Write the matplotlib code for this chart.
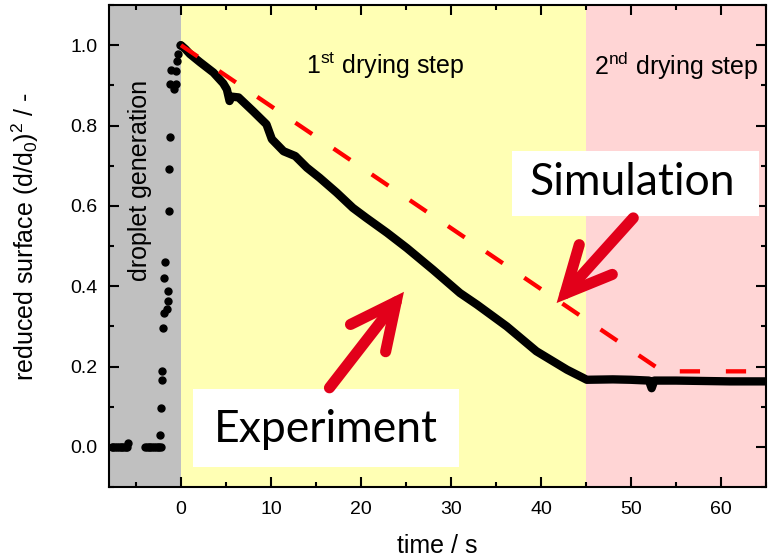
import matplotlib
matplotlib.use('Agg')
import matplotlib.pyplot as plt
from matplotlib.patches import Rectangle, FancyArrowPatch
from matplotlib.ticker import MultipleLocator

plt.rcParams['font.family'] = ['Liberation Sans', 'DejaVu Sans']
plt.rcParams['mathtext.fontset'] = 'custom'
plt.rcParams['mathtext.rm'] = 'Liberation Sans'
plt.rcParams['mathtext.it'] = 'Liberation Sans'

# droplet generation phase (single dots)
gen_t = [-7.7, -7.5, -7.3, -7.1, -6.9, -6.7, -6.5, -6.3, -6.1, -6.0, -5.85,
         -4.0, -3.8, -3.6, -3.4, -3.2, -3.0, -2.8, -2.6, -2.4, -2.2,
         -2.33, -2.22, -2.07, -2.07, -1.96, -1.85, -1.59, -1.48, -1.41, -1.85, -1.78,
         -1.33, -1.3, -1.22, -1.22, -0.74, -0.56, -1.07, -0.52, -0.41, -0.3, -0.11]
gen_y = [0.0, 0.0, 0.0, 0.0, 0.0, 0.0, 0.0, 0.0, 0.0, 0.0, 0.009,
         0.0, 0.0, 0.0, 0.0, 0.0, 0.0, 0.0, 0.0, 0.0, 0.0,
         0.03, 0.096, 0.167, 0.188, 0.296, 0.333, 0.342, 0.362, 0.387, 0.42, 0.46,
         0.587, 0.692, 0.771, 0.903, 0.89, 0.903, 0.938, 0.936, 0.961, 0.978, 1.0]

# drying phase (dense measurement)
exp_t = [0.0, 0.5, 1.0, 2.1, 3.6, 4.7, 5.1, 5.4, 5.6, 6.4, 8.0, 9.5, 10.1, 11.4,
         12.7, 14.0, 15.4, 17.3, 19.1, 20.6, 22.9, 25.1, 28.0, 31.0, 32.9,
         36.2, 39.5, 42.9, 45.1, 48.0, 50.0, 52.0, 52.3, 52.6, 55.0, 58.0, 61.0, 65.0]
exp_y = [1.0, 0.99, 0.978, 0.958, 0.932, 0.905, 0.89, 0.861, 0.872, 0.87, 0.836,
         0.803, 0.766, 0.736, 0.724, 0.695, 0.67, 0.633, 0.595, 0.570, 0.533, 0.495,
         0.441, 0.383, 0.354, 0.30, 0.238, 0.192, 0.167, 0.168, 0.167, 0.165, 0.146,
         0.165, 0.165, 0.164, 0.163, 0.163]

# simulation
sim_t = [0.0, 53.5, 65.0]
sim_y = [1.0, 0.188, 0.188]

fig = plt.figure(figsize=(7.69, 5.58), dpi=100)
ax = fig.add_axes([0.1417, 0.1272, 0.8543, 0.8638])

# background shading of the three phases
ax.axvspan(-8, 0, color='#c0c0c0', zorder=0, lw=0)
ax.axvspan(0, 45, color='#ffffb4', zorder=0, lw=0)
ax.axvspan(45, 65, color='#ffd5d5', zorder=0, lw=0)

ax.plot(gen_t, gen_y, 'o', color='black', ms=5, zorder=3)
ax.plot(exp_t, exp_y, '-', color='black', lw=6, solid_capstyle='round',
        solid_joinstyle='round', zorder=3)
ax.plot(sim_t, sim_y, '--', color='#ff0000', lw=3.1, dashes=(4.7, 6), zorder=4)

# white label boxes
ax.add_patch(Rectangle((1.37, -0.049), 29.5, 0.194, facecolor='white',
                       edgecolor='none', zorder=5))
ax.add_patch(Rectangle((36.8, 0.574), 27.4, 0.162, facecolor='white',
                       edgecolor='none', zorder=5))
ax.text(16.06, 0.0125, 'Experiment', fontsize=32, family=['Lato', 'DejaVu Sans'],
        ha='center', va='baseline', zorder=6)
ax.text(50.2, 0.628, 'Simulation', fontsize=32, family=['Lato', 'DejaVu Sans'],
        ha='center', va='baseline', zorder=6)

# red arrows
for tail, tip in [((50.26, 0.570), (41.74, 0.358)), ((16.5, 0.147), (24.78, 0.386))]:
    arr = FancyArrowPatch(tail, tip, arrowstyle='->,head_length=3.3,head_width=1.6',
                          mutation_scale=10, color='#e2001a', lw=8,
                          shrinkA=0, shrinkB=0,
                          capstyle='round', joinstyle='miter', zorder=6)
    ax.add_patch(arr)

ax.text(-4.6, 0.663, 'droplet generation', rotation=90, fontsize=18,
        ha='center', va='center', zorder=2)
ax.text(22.7, 0.948, '1$^{\\mathrm{st}}$ drying step', fontsize=18,
        ha='center', va='center', zorder=2)
ax.text(55.0, 0.948, '2$^{\\mathrm{nd}}$ drying step', fontsize=18,
        ha='center', va='center', zorder=2)

ax.set_xlim(-8, 65)
ax.set_ylim(-0.1, 1.1)
ax.xaxis.set_major_locator(MultipleLocator(10))
ax.xaxis.set_minor_locator(MultipleLocator(5))
ax.yaxis.set_major_locator(MultipleLocator(0.2))
ax.yaxis.set_minor_locator(MultipleLocator(0.1))
ax.tick_params(which='both', direction='in', top=True, right=True, width=1.5,
               labelsize=14)
ax.tick_params(which='major', length=7)
ax.tick_params(which='minor', length=3.6)
ax.tick_params(axis='x', pad=10)
ax.tick_params(axis='y', pad=8)
for s in ax.spines.values():
    s.set_linewidth(1.5)

ax.set_xlabel('time / s', fontsize=18)
ax.set_ylabel('reduced surface (d/d$_0$)$^2$ / -', fontsize=18)
ax.xaxis.set_label_coords(0.5, -0.097)
ax.yaxis.set_label_coords(-0.103, 0.52)

fig.savefig('out.png', dpi=100)
